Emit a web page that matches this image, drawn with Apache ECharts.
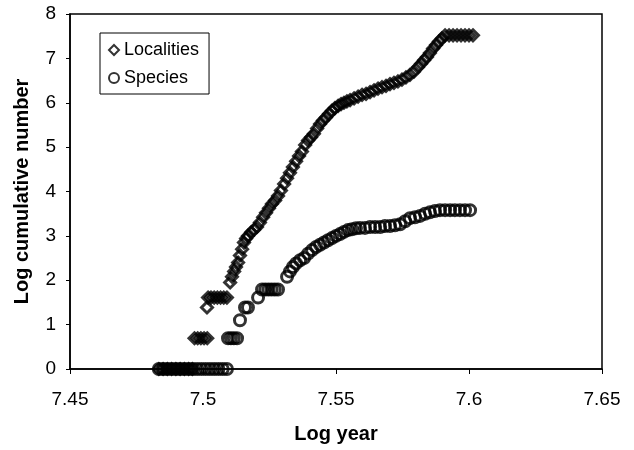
<!DOCTYPE html>
<html>
<head>
<meta charset="utf-8">
<script src="https://cdn.jsdelivr.net/npm/echarts@6/dist/echarts.min.js"></script>
<style>
  html, body { margin: 0; padding: 0; background: #fff; }
  #main { width: 634px; height: 450px; }
</style>
</head>
<body>
<div id="main"></div>
<script>
// log year values and log cumulative counts
var locX = [
  7.4834, 7.4850, 7.4866, 7.4882, 7.4898, 7.4914, 7.4930, 7.4946, 7.4960,
  7.4968, 7.4980, 7.4992, 7.5004, 7.5016,
  7.5015,
  7.5019, 7.5030, 7.5042, 7.5054, 7.5066, 7.5078, 7.5090,
  7.5102, 7.5109, 7.5117, 7.5124, 7.5132, 7.5139, 7.5147, 7.5154, 7.5162, 7.5169,
  7.5181, 7.5192, 7.5203, 7.5214, 7.5226, 7.5237, 7.5248, 7.5259, 7.5271, 7.5282,
  7.5293, 7.5305, 7.5316, 7.5327, 7.5338, 7.5350, 7.5361, 7.5372, 7.5384, 7.5395,
  7.5406, 7.5417, 7.5429, 7.5440, 7.5451, 7.5462, 7.5474, 7.5485, 7.5496, 7.5508,
  7.5519, 7.5530, 7.5541, 7.5553, 7.5568, 7.5583, 7.5598, 7.5613, 7.5628, 7.5643,
  7.5658, 7.5673, 7.5688, 7.5703, 7.5718, 7.5733, 7.5748, 7.5763, 7.5778, 7.5793,
  7.5808, 7.5820, 7.5831, 7.5842, 7.5853, 7.5865, 7.5876, 7.5887, 7.5898, 7.5910,
  7.5925, 7.5940, 7.5955, 7.5970, 7.5985, 7.6000, 7.6015
];
var locY = [
  0, 0, 0, 0, 0, 0, 0, 0, 0,
  0.693, 0.693, 0.693, 0.693, 0.693,
  1.386,
  1.609, 1.609, 1.609, 1.609, 1.609, 1.609, 1.609,
  1.95, 2.08, 2.2, 2.3, 2.4, 2.56, 2.7, 2.85, 2.94, 3.0,
  3.08, 3.14, 3.2, 3.3, 3.42, 3.52, 3.62, 3.72, 3.8, 3.9,
  4.02, 4.17, 4.3, 4.42, 4.55, 4.68, 4.8, 4.9, 5.05, 5.15,
  5.22, 5.3, 5.42, 5.52, 5.6, 5.67, 5.75, 5.82, 5.88, 5.93,
  5.97, 6.0, 6.03, 6.06, 6.1, 6.14, 6.18, 6.2, 6.24, 6.28,
  6.32, 6.35, 6.38, 6.42, 6.45, 6.48, 6.52, 6.57, 6.63, 6.7,
  6.8, 6.88, 6.96, 7.03, 7.12, 7.22, 7.3, 7.38, 7.45, 7.52,
  7.52, 7.52, 7.52, 7.52, 7.52, 7.52, 7.52
];
var spcX = [
  7.4834, 7.4850, 7.4866, 7.4882, 7.4898, 7.4914, 7.4930, 7.4946, 7.4962, 7.4978,
  7.4994, 7.5010, 7.5026, 7.5042, 7.5058, 7.5074, 7.5090,
  7.5094, 7.5105, 7.5116, 7.5128,
  7.5139,
  7.5158, 7.5169,
  7.5207,
  7.5222, 7.5234, 7.5246, 7.5258, 7.5270, 7.5282,
  7.5316, 7.5327, 7.5338, 7.5350, 7.5365, 7.5380, 7.5395, 7.5410, 7.5425, 7.5440,
  7.5455, 7.5470, 7.5485, 7.5500, 7.5515, 7.5530, 7.5545, 7.5560, 7.5575, 7.5590,
  7.5609, 7.5628, 7.5647, 7.5666, 7.5684, 7.5703, 7.5722, 7.5741, 7.5760, 7.5778,
  7.5797, 7.5816, 7.5835, 7.5853, 7.5872, 7.5891, 7.5910, 7.5929, 7.5947, 7.5966,
  7.5985, 7.6004
];
var spcY = [
  0, 0, 0, 0, 0, 0, 0, 0, 0, 0,
  0, 0, 0, 0, 0, 0, 0,
  0.693, 0.693, 0.693, 0.693,
  1.099,
  1.386, 1.386,
  1.609,
  1.792, 1.792, 1.792, 1.792, 1.792, 1.792,
  2.079, 2.2, 2.3, 2.38, 2.45, 2.5, 2.6, 2.68, 2.75, 2.8,
  2.85, 2.9, 2.95, 3.0, 3.04, 3.09, 3.13, 3.15, 3.17, 3.18,
  3.18, 3.2, 3.2, 3.2, 3.22, 3.22, 3.24, 3.26, 3.33, 3.4,
  3.42, 3.45, 3.5, 3.53, 3.56, 3.58, 3.58, 3.58, 3.58, 3.58,
  3.58, 3.58
];

function pairs(xs, ys) {
  return xs.map(function (x, i) { return [x, ys[i]]; });
}

var chart = echarts.init(document.getElementById('main'));
var font = 'Liberation Sans, Arial, sans-serif';

option = {
  animation: false,
  backgroundColor: '#fff',
  textStyle: { fontFamily: font, color: '#000' },
  grid: {
    left: 70, right: 32, top: 14, bottom: 81,
    show: true, borderColor: '#000', borderWidth: 1.5
  },
  legend: {
    orient: 'vertical',
    left: 100, top: 33,
    borderColor: '#000', borderWidth: 1,
    padding: [8, 10, 7, 8],
    itemGap: 10,
    itemWidth: 10, itemHeight: 10,
    textStyle: { fontSize: 18, color: '#000', fontFamily: font },
    data: ['Localities', 'Species']
  },
  xAxis: {
    type: 'value',
    min: 7.45, max: 7.65, interval: 0.05,
    name: 'Log year',
    nameLocation: 'middle',
    nameGap: 55,
    nameTextStyle: { fontSize: 20, fontWeight: 'bold', color: '#000' },
    axisLine: { lineStyle: { color: '#000', width: 1.5 } },
    axisTick: { show: true, length: 5, lineStyle: { color: '#000' } },
    axisLabel: {
      fontSize: 19, color: '#000', margin: 21,
      formatter: function (v) { return String(parseFloat(v.toFixed(2))); }
    },
    splitLine: { show: false }
  },
  yAxis: {
    type: 'value',
    min: 0, max: 8, interval: 1,
    name: 'Log cumulative number',
    nameLocation: 'middle',
    nameGap: 38,
    nameTextStyle: { fontSize: 20, fontWeight: 'bold', color: '#000' },
    axisLine: { lineStyle: { color: '#000', width: 1.5 } },
    axisTick: { show: true, length: 4, lineStyle: { color: '#000' } },
    axisLabel: { fontSize: 19, color: '#000', margin: 14 },
    splitLine: { show: false }
  },
  series: [
    {
      name: 'Localities',
      type: 'scatter',
      symbol: 'diamond',
      symbolSize: 11,
      itemStyle: { color: 'rgba(255,255,255,0)', borderColor: '#000', borderWidth: 3 },
      data: pairs(locX, locY)
    },
    {
      name: 'Species',
      type: 'scatter',
      symbol: 'circle',
      symbolSize: 11,
      itemStyle: { color: 'rgba(255,255,255,0)', borderColor: '#000', borderWidth: 3 },
      data: pairs(spcX, spcY)
    }
  ]
};
chart.setOption(option);
</script>
</body>
</html>
